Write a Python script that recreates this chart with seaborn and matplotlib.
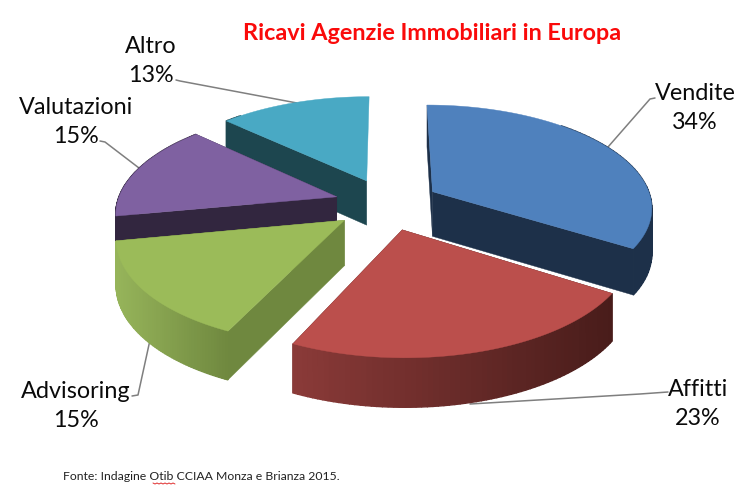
import numpy as np
import matplotlib
matplotlib.use('Agg')
import matplotlib.pyplot as plt
import seaborn as sns

# data
categories = ['Vendite', 'Affitti', 'Advisoring', 'Valutazioni', 'Altro']
values = [34, 23, 15, 15, 13]

title = 'Ricavi Agenzie Immobiliari in Europa'
source = 'Fonte: Indagine Otib CCIAA Monza e Brianza 2015.'

# style
top_colors = sns.color_palette(['#4f81bd', '#bb4f4c', '#9bbb59', '#7f61a1', '#49a9c4'])
side_colors = ['#1d3049', '#4c1f1d', '#6f883f', '#32263f', '#1d464f']
rim_colors = [('#1d3049', '#1d3049'), ('#8a3a38', '#481c1a'), ('#96b45a', '#6f883f'),
              ('#32263f', '#32263f'), ('#1d464f', '#1d464f')]
draw_order = [4, 3, 0, 2, 1]

sns.set_theme(style='white')
plt.rcParams['font.family'] = ['Lato', 'DejaVu Sans']

# pie geometry, in pixels of the picture
cx, cy = 387, 204
rad_x, rad_y = 220, 102
persp = 0.14
depth = 45
expl_x, expl_y = 0.24, 0.255


def project(x, y, drop=0):
    w = 1 + persp * y
    return cx + x * rad_x / w, cy - y * rad_y / w + drop / np.sqrt(w)


fig = plt.figure(figsize=(7.5, 4.88), dpi=100, facecolor='white')
ax = fig.add_axes([0, 0, 1, 1])
ax.set_xlim(0, 750)
ax.set_ylim(488, 0)
ax.axis('off')

edges = np.radians(np.concatenate([[0], np.cumsum(values)]) / sum(values) * 360)

for i in draw_order:
    first_patch = len(ax.patches)
    mid = (edges[i] + edges[i + 1]) / 2
    ox, oy = expl_x * np.sin(mid), expl_y * np.cos(mid)
    th = np.linspace(edges[i], edges[i + 1], 70)
    ax_x, ax_y = ox + np.sin(th), oy + np.cos(th)

    tx, ty = project(ax_x, ax_y)
    bx, by = project(ax_x, ax_y, depth)
    apex_t = project(ox, oy)
    apex_b = project(ox, oy, depth)

    # cut faces
    for k in [0, -1]:
        if i == 4 and k == -1:
            continue  # no sliver on the right of Altro
        ax.fill([apex_t[0], tx[k], bx[k], apex_b[0]], [apex_t[1], ty[k], by[k], apex_b[1]],
                color=side_colors[i], lw=0.3)

    # outer rim, shaded from left to right
    shades = sns.blend_palette(list(rim_colors[i]), n_colors=120)
    x_min, x_max = tx.min(), tx.max()
    for k in range(len(th) - 1):
        if np.cos(th[k]) > 0.75:
            continue  # back of the pie, hidden under the top face
        pos = ((tx[k] + tx[k + 1]) / 2 - x_min) / (x_max - x_min)
        c = shades[int(pos * 119)]
        ax.fill([tx[k], tx[k + 1], bx[k + 1], bx[k]], [ty[k], ty[k + 1], by[k + 1], by[k]],
                color=c, lw=1.0)

    # top face
    ax.fill(np.r_[apex_t[0], tx], np.r_[apex_t[1], ty], color=top_colors[i], lw=0.3)

    # raise the whole wedge above the previous ones
    for p in ax.patches[first_patch:]:
        p.set_zorder(2 + draw_order.index(i))

# leader lines
leaders = [
    ([608, 650, 655], [147, 99, 98]),
    ([470, 640, 668], [404, 394, 392]),
    ([150, 138, 132], [340, 395, 396]),
    ([139, 105, 100], [168, 142, 141]),
    ([297, 180, 176], [103, 81, 80]),
]
for lx, ly in leaders:
    ax.plot(lx, ly, color='#7f7f7f', lw=1.1, zorder=1.5)

# labels
label_pos = [(695, 108), (698, 404), (76, 406), (76, 122), (151, 61)]
for name, val, (x, y) in zip(categories, values, label_pos):
    ax.text(x, y, f'{name}\n{val}%', ha='center', va='center', fontsize=16.8,
            color='#0a0a0a', linespacing=1.45, zorder=10)

ax.text(432, 33, title, ha='center', va='center', fontsize=16.8, fontweight='bold',
        color='#fa0a0a', zorder=10)
ax.text(63, 477, source, ha='left', va='center', fontsize=8.85, color='#222222', zorder=10)

# spell check squiggle under Otib
wave_x = np.arange(153, 177, 2)
ax.plot(wave_x, 483 + (wave_x % 4) / 2 - 0.5, color='#e03030', lw=0.7, zorder=10)

fig.savefig('out.png', dpi=100)
